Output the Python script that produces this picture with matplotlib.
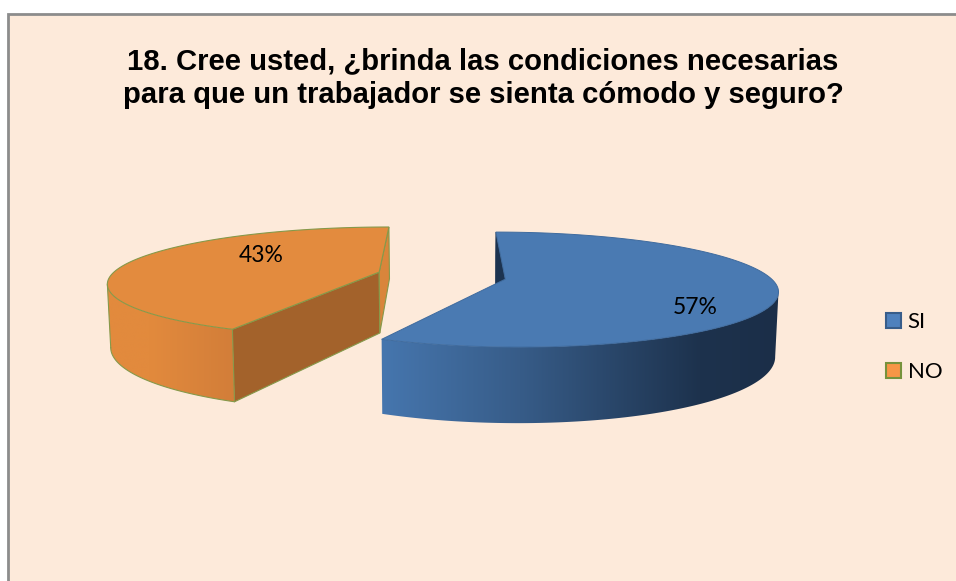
import numpy as np
import matplotlib
matplotlib.use("Agg")
import matplotlib.pyplot as plt
from matplotlib.patches import Patch, Polygon, Rectangle

title = "18. Cree usted, ¿brinda las condiciones necesarias\npara que un trabajador se sienta cómodo y seguro?"
categories = ["SI", "NO"]
values = [57, 43]

# pie geometry in pixels
CX, CY = 444, 277.5
RADIUS = [265, 270]
B = 55
P = 0.18
DEPTH = 62
TAPER = 0.01
EXPLODE = [(0.23, -0.03), (-0.2444, 0.10)]
LABEL_POS = [(695, 307.5), (261, 256)]

TOP = ["#4A7AB2", "#E38B3E"]
EDGE = ["#3F6B9E", "#86994A"]
LEGEND_FACE = ["#4F81BD", "#F79646"]
LEGEND_EDGE = ["#385D8A", "#76923C"]
BG = "#FDEADA"

# wall shading, blue goes dark to the right, orange just a little
SHADE_X = [[381, 520, 700, 780], [107, 150, 232]]
SHADE_RGB = [[(70, 118, 174), (55, 92, 136), (29, 50, 77), (27, 46, 72)],
             [(226, 138, 61), (226, 138, 61), (211, 126, 57)]]


def project(x, y, r, h=0.0):
    g = 1 / (1 + P * y)
    return np.column_stack([CX + x * r * g * (1 - TAPER * h / DEPTH), CY - y * B * g + h * g])


fig = plt.figure(figsize=(9.56, 5.81), dpi=100, facecolor="white")
ax = fig.add_axes([0, 0, 1, 1])
ax.axis("off")

ax.add_patch(Rectangle((8.5, 13.5), 970, 590, facecolor=BG, edgecolor="#8C8C8C", lw=2, zorder=0))

fractions = np.array(values) / sum(values)
start = 90.0
z = 2
for i, frac in enumerate(fractions):
    end = start - 360 * frac
    t = np.radians(np.linspace(start, end, 361))
    ex, ey = EXPLODE[i]
    r = RADIUS[i]
    x = ex + np.cos(t)
    y = ey + np.sin(t)

    top_arc = project(x, y, r)
    bot_arc = project(x, y, r, DEPTH)
    apex_top = project(np.array([ex]), np.array([ey]), r)
    apex_bot = project(np.array([ex]), np.array([ey]), r, DEPTH)

    # visible part of the outer wall, gradient clipped to it
    if i == 0:
        vis = np.arange(np.argmax(top_arc[:, 0]), len(t))
    else:
        vis = np.arange(0, np.argmin(top_arc[:, 0]) + 1)
    wall = np.vstack([top_arc[vis], bot_arc[vis][::-1]])
    xs = np.arange(wall[:, 0].min() - 2, wall[:, 0].max() + 3)
    grad = np.stack([np.interp(xs, SHADE_X[i], [c[k] for c in SHADE_RGB[i]]) for k in range(3)], axis=1) / 255
    im = ax.imshow(grad[np.newaxis, :, :], extent=(xs[0], xs[-1], wall[:, 1].max() + 2, wall[:, 1].min() - 2),
                   aspect="auto", interpolation="bilinear", zorder=z)
    im.set_clip_path(Polygon(wall, closed=True, transform=ax.transData))

    if i == 0:
        # dark sliver beside the apex
        ax.add_patch(Polygon([top_arc[0], apex_top[0], apex_bot[0], bot_arc[0]],
                             facecolor="#1C3350", edgecolor="#1C3350", lw=0.5, zorder=z + 1))
    else:
        ax.add_patch(Polygon([top_arc[0], apex_top[0], apex_bot[0], bot_arc[0]],
                             facecolor="#A3622B", edgecolor=EDGE[i], lw=0.8, zorder=z + 1))
        ax.add_patch(Polygon([top_arc[-1], apex_top[0], apex_bot[0], bot_arc[-1]],
                             facecolor="#D9853B", edgecolor=EDGE[i], lw=0.8, zorder=z + 1))
        # outline of the visible wall, left silhouette included
        ax.plot(bot_arc[vis, 0], bot_arc[vis, 1], color=EDGE[i], lw=0.8, zorder=z + 1)
        ax.plot([top_arc[vis[-1], 0], bot_arc[vis[-1], 0]], [top_arc[vis[-1], 1], bot_arc[vis[-1], 1]],
                color=EDGE[i], lw=0.8, zorder=z + 1)

    ax.add_patch(Polygon(np.vstack([apex_top, top_arc]), closed=True, facecolor=TOP[i],
                         edgecolor=EDGE[i], lw=0.8 if i else 0.7, zorder=z + 2))
    ax.text(LABEL_POS[i][0], LABEL_POS[i][1], f"{values[i]}%", fontsize=16.5, family="Lato",
            ha="center", va="center", color="black", zorder=z + 3)
    start = end
    z += 5

ax.set_xlim(0, 956)
ax.set_ylim(581, 0)

ax.text(483, 78, title, fontsize=21.1, fontweight="bold", family="Liberation Sans",
        ha="center", va="center", linespacing=1.28, color="black")

handles = [Patch(facecolor=LEGEND_FACE[i], edgecolor=LEGEND_EDGE[i], lw=1.5) for i in range(2)]
ax.legend(handles, categories, loc="center left", bbox_to_anchor=(886 / 956, 1 - 347 / 581),
          frameon=False, handlelength=0.68, handleheight=0.68, handletextpad=0.3, labelspacing=1.35,
          borderpad=0, borderaxespad=0, prop={"family": "Lato", "size": 16})

fig.savefig("out.png", dpi=100)
